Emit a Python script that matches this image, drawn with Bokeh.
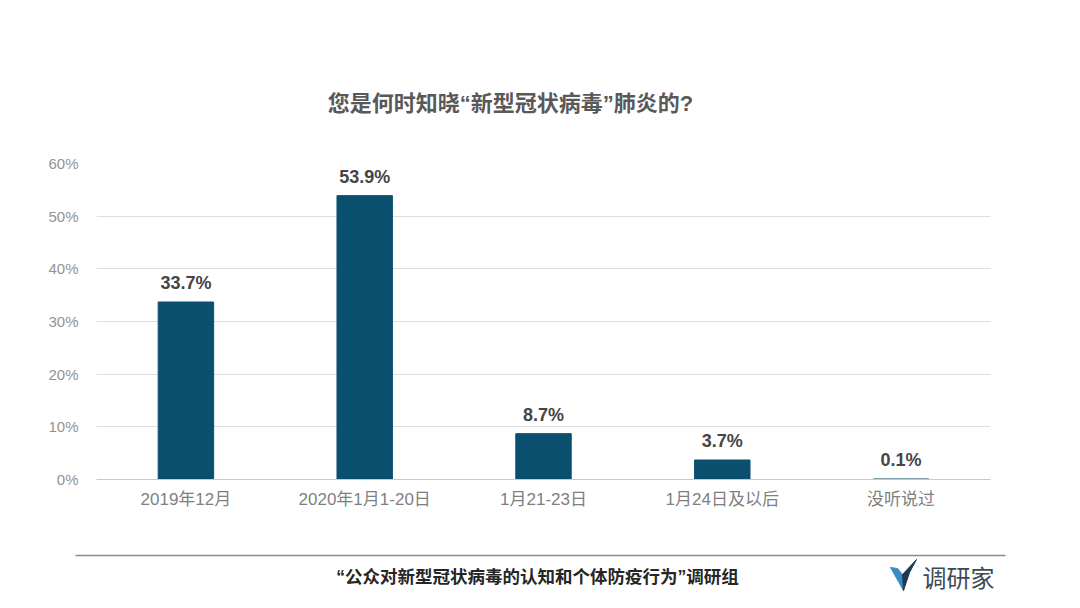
from bokeh.plotting import figure
from bokeh.models import ColumnDataSource, Range1d, NumeralTickFormatter, FixedTicker
from bokeh.layouts import column, row
from bokeh.core.properties import value
from bokeh.embed import file_html
from bokeh.resources import INLINE

categories = ["2019年12月", "2020年1月1-20日", "1月21-23日", "1月24日及以后", "没听说过"]
values = [0.337, 0.539, 0.087, 0.037, 0.001]
labels = ["33.7%", "53.9%", "8.7%", "3.7%", "0.1%"]
y_ticks = [0, 0.1, 0.2, 0.3, 0.4, 0.5, 0.6]

title_text = "您是何时知晓“新型冠状病毒”肺炎的?"
footer_text = "“公众对新型冠状病毒的认知和个体防疫行为”调研组"
logo_text = "调研家"

FONT = "'Liberation Sans', 'Noto Sans CJK SC', sans-serif"
CJK = "'Noto Sans CJK SC', 'Liberation Sans', sans-serif"

W = 1080

# header with title
h = figure(x_range=Range1d(96, 990), y_range=Range1d(150, 0), width=W, height=150,
           output_backend="svg", toolbar_location=None,
           min_border_left=96, min_border_right=90, min_border_top=0, min_border_bottom=0)
h.axis.visible = False
h.grid.grid_line_color = None
h.outline_line_color = None
h.text(x=[510], y=[103], text=[title_text], text_align="center", text_baseline="middle",
       text_font=value(FONT), text_font_size="22px", text_font_style="bold", text_color="#595959")

src = ColumnDataSource(dict(cat=categories, val=values, lab=labels))

p = figure(x_range=categories, y_range=Range1d(0, 0.6), width=W, height=398,
           output_backend="svg", toolbar_location=None,
           min_border_left=96, min_border_right=90, min_border_top=13, min_border_bottom=69)
p.outline_line_color = None

p.vbar(x="cat", top="val", width=0.31, source=src, color="#0a4f6e")
p.text(x="cat", y="val", text="lab", source=src, text_align="center", text_baseline="bottom",
       y_offset=-9, text_font=value(FONT), text_font_size="18px", text_font_style="bold",
       text_color="#454545")

p.yaxis.ticker = FixedTicker(ticks=y_ticks)
p.yaxis.formatter = NumeralTickFormatter(format="0%")
p.yaxis.axis_line_color = None
p.yaxis.major_tick_line_color = None
p.yaxis.minor_tick_line_color = None
p.yaxis.major_label_text_font = FONT
p.yaxis.major_label_text_font_size = "15px"
p.yaxis.major_label_text_color = "#939393"
p.yaxis.major_label_standoff = 12

p.xaxis.axis_line_color = "#c8c8c8"
p.xaxis.major_tick_line_color = None
p.xaxis.minor_tick_line_color = None
p.xaxis.major_label_text_font = FONT
p.xaxis.major_label_text_font_size = "17px"
p.xaxis.major_label_text_color = "#7f7f7f"
p.xaxis.major_label_standoff = 4

p.xgrid.grid_line_color = None
p.ygrid.grid_line_color = "#dedede"
p.ygrid.grid_line_width = 1

# footer
f = figure(x_range=Range1d(0, W), y_range=Range1d(56, 0), width=W, height=56,
           output_backend="svg", toolbar_location=None,
           min_border_left=0, min_border_right=0, min_border_top=0, min_border_bottom=0)
f.axis.visible = False
f.grid.grid_line_color = None
f.outline_line_color = None
f.segment(x0=[75], y0=[7], x1=[1005], y1=[7], line_color="#8a8a8a", line_width=1.5)
f.text(x=[537], y=[28], text=[footer_text], text_align="center", text_baseline="middle",
       text_font=value(FONT), text_font_size="17.5px", text_font_style="bold", text_color="#262626")
# logo mark: light-blue left wing and dark blade
f.patch(x=[890, 897, 902, 903], y=[19, 20, 26, 42], color="#3a8cc2")
f.patch(x=[902, 916, 909, 903], y=[26, 11, 24, 42], color="#1b3a57")
f.text(x=[958], y=[28], text=[logo_text], text_align="center", text_baseline="middle",
       text_font=value(CJK), text_font_size="24px", text_font_style="normal", text_color="#3d4a55")

layout = column(h, p, row(f), spacing=0)
open("out.html", "w").write(file_html(layout, INLINE))
